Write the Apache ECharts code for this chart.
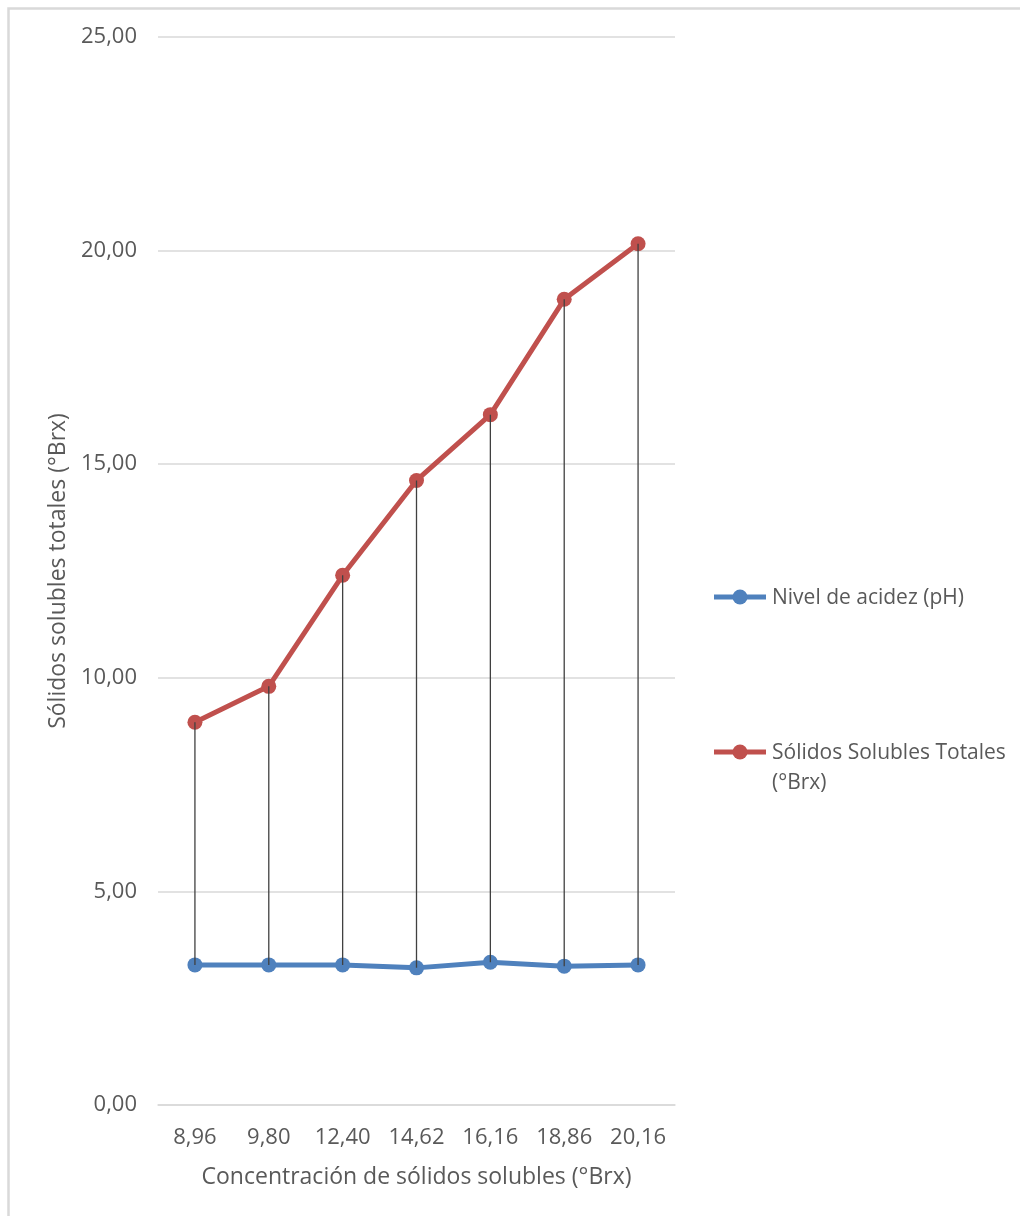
<!DOCTYPE html>
<html>
<head>
<meta charset="utf-8">
<script src="https://cdn.jsdelivr.net/npm/echarts@6/dist/echarts.min.js"></script>
<style>
  html, body { margin: 0; padding: 0; background: #ffffff; }
  #chart { width: 1020px; height: 1216px; }
</style>
</head>
<body>
<div id="chart"></div>
<script>
// Concentración de sólidos solubles (°Brx) — category values
const categories = [8.96, 9.80, 12.40, 14.62, 16.16, 18.86, 20.16];
// Nivel de acidez (pH)
const phValues = [3.28, 3.28, 3.28, 3.21, 3.34, 3.25, 3.28];
// Sólidos Solubles Totales (°Brx)
const sstValues = [8.96, 9.80, 12.40, 14.62, 16.16, 18.86, 20.16];
// Y axis scale
const yMin = 0, yMax = 25, yStep = 5;

const seriesNames = ['Nivel de acidez (pH)', 'Sólidos Solubles Totales (°Brx)'];
const legendLabels = ['Nivel de acidez (pH)', 'Sólidos Solubles Totales\n(°Brx)'];

const BLUE = '#4F81BD';
const RED = '#C0504D';
const TEXT = '#595959';
const GRID = '#d9d9d9';
const FONT = '"Open Sans", sans-serif';

const comma = v => Number(v).toFixed(2).replace('.', ',');

const chart = echarts.init(document.getElementById('chart'), null, { renderer: 'canvas' });

// high-low connector rows: [index, low, high]
const hiLo = categories.map((c, i) => [i, phValues[i], sstValues[i]]);

function legendEntry(y, color, label) {
  return [
    { type: 'line', shape: { x1: 714, y1: y, x2: 766, y2: y },
      style: { stroke: color, lineWidth: 5 } },
    { type: 'circle', shape: { cx: 740, cy: y, r: 7.5 }, style: { fill: color } },
    { type: 'text', x: 772, y: y - 14,
      style: { text: label, fill: TEXT, font: '21px ' + FONT, lineHeight: 30,
               textVerticalAlign: 'top' } }
  ];
}

chart.setOption({
  animation: false,
  backgroundColor: '#ffffff',
  grid: { left: 158, right: 345, top: 37, bottom: 111, containLabel: false },
  xAxis: {
    type: 'category',
    data: categories.map(comma),
    boundaryGap: true,
    name: 'Concentración de sólidos solubles (°Brx)',
    nameLocation: 'middle',
    nameGap: 61,
    nameTextStyle: { color: TEXT, fontFamily: FONT, fontSize: 23 },
    axisLine: { show: true, lineStyle: { color: GRID, width: 1.5 } },
    axisTick: { show: false },
    axisLabel: { color: TEXT, fontFamily: FONT, fontSize: 22, margin: 22 }
  },
  yAxis: {
    type: 'value',
    min: yMin, max: yMax, interval: yStep,
    name: 'Sólidos solubles totales (°Brx)',
    nameLocation: 'middle',
    nameGap: 85,
    nameTextStyle: { color: TEXT, fontFamily: FONT, fontSize: 23 },
    axisLine: { show: false },
    axisTick: { show: false },
    splitLine: { lineStyle: { color: GRID, width: 1.5 } },
    axisLabel: { color: TEXT, fontFamily: FONT, fontSize: 22, margin: 21,
                 formatter: v => comma(v) }
  },
  series: [
    {
      name: seriesNames[0],
      type: 'line',
      data: phValues,
      symbol: 'circle',
      symbolSize: 15,
      itemStyle: { color: BLUE },
      lineStyle: { color: BLUE, width: 5 },
      z: 3
    },
    {
      name: seriesNames[1],
      type: 'line',
      data: sstValues,
      symbol: 'circle',
      symbolSize: 15,
      itemStyle: { color: RED },
      lineStyle: { color: RED, width: 5 },
      z: 3
    },
    {
      name: 'high-low',
      type: 'custom',
      data: hiLo,
      z: 5,
      silent: true,
      renderItem: function (params, api) {
        const a = api.coord([api.value(0), api.value(1)]);
        const b = api.coord([api.value(0), api.value(2)]);
        return {
          type: 'line',
          shape: { x1: a[0], y1: a[1], x2: b[0], y2: b[1] },
          style: { stroke: '#404040', lineWidth: 1.3 }
        };
      }
    }
  ],
  graphic: [
    { type: 'rect', shape: { x: 8.5, y: 8.5, width: 1100, height: 1300 },
      style: { fill: 'none', stroke: GRID, lineWidth: 2.5 }, silent: true },
    ...legendEntry(597, BLUE, legendLabels[0]),
    ...legendEntry(752, RED, legendLabels[1])
  ]
});
</script>
</body>
</html>
